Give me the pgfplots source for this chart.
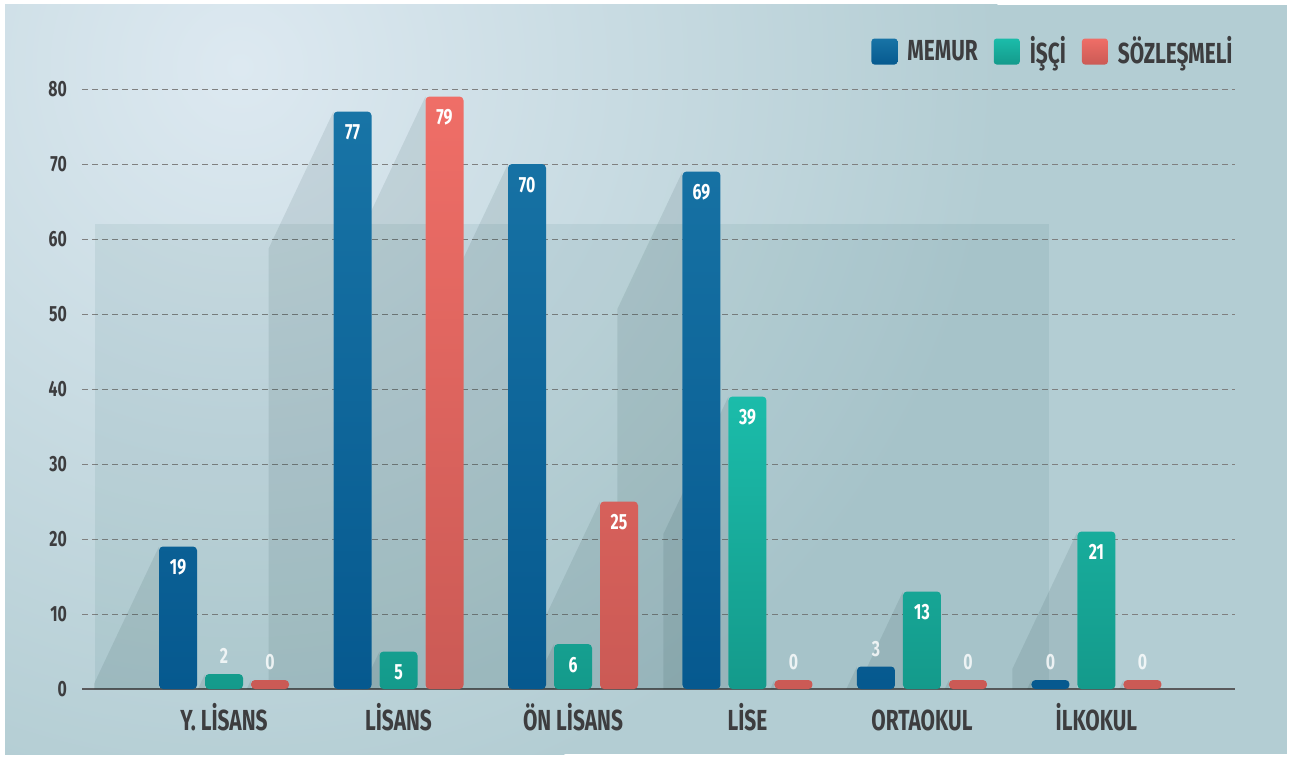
\documentclass[border=0pt]{standalone}
\usepackage{fontspec}
\setmainfont{Fira Sans}[FakeStretch=0.72]
\usepackage{pgfplots}
\usepackage{pgfplotstable}
\pgfplotsset{compat=1.18}
\definecolor{memtop}{HTML}{1874A6}
\definecolor{membot}{HTML}{06598F}
\definecolor{isctop}{HTML}{1BBCAA}
\definecolor{iscbot}{HTML}{149A8B}
\definecolor{soztop}{HTML}{EF6E67}
\definecolor{sozbot}{HTML}{CB5A55}
\definecolor{txt}{HTML}{3D3D3F}
\definecolor{bgbase}{HTML}{B3CDD3}
\definecolor{bglight}{HTML}{DDE9F1}
\pgfplotstableread{
x memur isci soz
0 19 2 0
1 77 5 79
2 70 6 25
3 69 39 0
4 3 13 0
5 0 21 0
}\data
% decorative drop shadow to the left of a bar: #1 = left edge (axis units), #2 = drawn height
\newcommand\mywedge[2]{%
  \pgfmathsetmacro\wa{#1-0.3725*min(1,#2/18.3)}%
  \pgfmathsetmacro\wb{max(#2-18.3,0)}%
  \fill[black!70!teal, opacity=0.09] (axis cs:#1,#2) -- (axis cs:\wa,\wb) -- (axis cs:\wa,0) -- (axis cs:#1,0) -- cycle;}
\begin{document}
\begin{tikzpicture}
\path[use as bounding box] (0,0) rectangle (645.5pt,378.5pt);
\fill[white] (0,0) rectangle (645.5pt,378.5pt);
\begin{scope}
\clip (2.5pt,1.5pt) rectangle (643.5pt,376pt);
\fill[bgbase] (2.5pt,1.5pt) rectangle (643.5pt,376pt);
\shade[inner color=bglight, outer color=bgbase] (120pt,345pt) circle (380pt);
\end{scope}
\begin{axis}[
  at={(41pt,34pt)}, anchor=south west,
  scale only axis, width=576.5pt, height=300pt,
  xmin=-0.814, xmax=5.794, ymin=0, ymax=80,
  ybar, bar width=19pt,
  clip=false,
  xtick={0,1,2,3,4,5},
  xticklabels={Y. LİSANS, LİSANS, ÖN LİSANS, LİSE, ORTAOKUL, İLKOKUL},
  ytick={0,10,...,80},
  ymajorgrids,
  major grid style={draw=black!50, densely dashed, line width=0.35pt},
  axis x line*=bottom, axis y line*=left,
  x axis line style={-, draw=txt!85, line width=0.8pt},
  y axis line style={draw=none},
  major tick length=0pt,
  /pgf/number format/assume math mode=true,
  yticklabel style={font=\fontsize{11}{12}\selectfont\bfseries, text=txt, xshift=-4pt},
  xticklabel style={font=\fontsize{14.5}{16}\selectfont\bfseries, text=txt, yshift=-4pt,
    text height=13pt, text depth=0pt},
  legend style={at={(1,1)}, anchor=south east, yshift=7pt, xshift=4pt, draw=none, fill=none,
    font=\fontsize{14.5}{16}\selectfont\bfseries, text=txt, legend columns=-1,
    /tikz/every odd column/.append style={column sep=3pt},
    /tikz/every even column/.append style={column sep=6pt}},
  legend image code/.code={\path[#1, draw=none, rounded corners=1.5pt] (0pt,-6.5pt) rectangle (13pt,6.5pt);},
  inlab/.style={draw=none, fill=none, forget plot, nodes near coords, point meta=explicit,
    every node near coord/.append style={anchor=north, yshift=-3pt, text=white, font=\fontsize{11}{12}\selectfont\bfseries},
    y filter/.expression={y>=4.5 ? y : nan}},
  outlab/.style={draw=none, fill=none, forget plot, nodes near coords, point meta=explicit,
    every node near coord/.append style={anchor=south, yshift=1.5pt, text=white, opacity=0.8, font=\fontsize{11}{12}\selectfont\bfseries},
    y filter/.expression={y<4.5 ? y : nan}},
]
\fill[black!40!teal, opacity=0.07] (axis cs:-0.74,0) rectangle (axis cs:4.73,62);
\pgfplotsextra{%
  \mywedge{-0.3725}{19}\mywedge{0.6275}{77}\mywedge{1.6275}{70}\mywedge{2.6275}{69}\mywedge{3.6275}{3}\mywedge{4.6275}{1.2}%
  \mywedge{-0.1089}{2}\mywedge{0.8911}{5}\mywedge{1.8911}{6}\mywedge{2.8911}{39}\mywedge{3.8911}{13}\mywedge{4.8911}{21}%
  \mywedge{0.1547}{1.2}\mywedge{1.1547}{79}\mywedge{2.1547}{25}\mywedge{3.1547}{1.2}\mywedge{4.1547}{1.2}\mywedge{5.1547}{1.2}}
\addplot[bar shift=-23pt, draw=none, top color=memtop, bottom color=membot, rounded corners=2pt]
  table[x=x, y expr={max(\thisrow{memur},1.2)}] {\data};
\addlegendentry{MEMUR}
\addplot[bar shift=0pt, draw=none, top color=isctop, bottom color=iscbot, rounded corners=2pt]
  table[x=x, y expr={max(\thisrow{isci},1.2)}] {\data};
\addlegendentry{İŞÇİ}
\addplot[bar shift=23pt, draw=none, top color=soztop, bottom color=sozbot, rounded corners=2pt]
  table[x=x, y expr={max(\thisrow{soz},1.2)}] {\data};
\addlegendentry{SÖZLEŞMELİ}
\addplot[bar shift=-23pt, inlab] table[x=x, y expr={max(\thisrow{memur},1.2)}, meta=memur] {\data};
\addplot[bar shift=0pt, inlab] table[x=x, y expr={max(\thisrow{isci},1.2)}, meta=isci] {\data};
\addplot[bar shift=23pt, inlab] table[x=x, y expr={max(\thisrow{soz},1.2)}, meta=soz] {\data};
\addplot[bar shift=-23pt, outlab] table[x=x, y expr={max(\thisrow{memur},1.2)}, meta=memur] {\data};
\addplot[bar shift=0pt, outlab] table[x=x, y expr={max(\thisrow{isci},1.2)}, meta=isci] {\data};
\addplot[bar shift=23pt, outlab] table[x=x, y expr={max(\thisrow{soz},1.2)}, meta=soz] {\data};
\end{axis}
\end{tikzpicture}
\end{document}
